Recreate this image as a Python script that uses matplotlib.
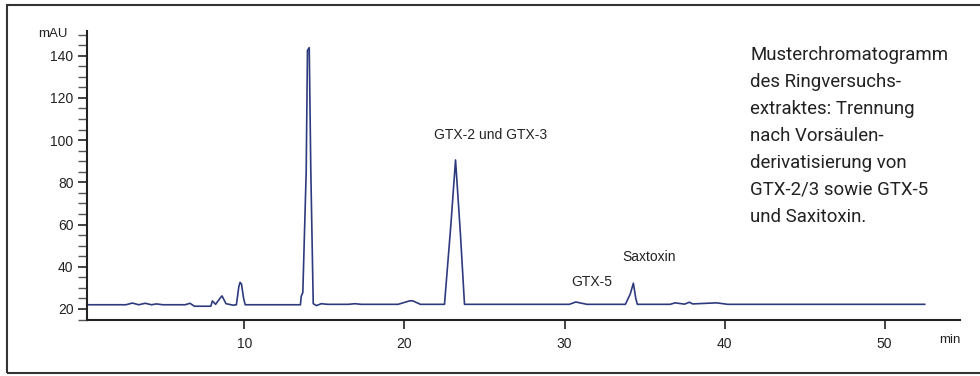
import matplotlib
matplotlib.use("Agg")
import matplotlib.pyplot as plt
from matplotlib.patches import Rectangle
from matplotlib.ticker import MultipleLocator

# chromatogram trace (min, mAU)
t_min = [0.15, 2.6, 3.0, 3.4, 3.8, 4.2, 4.5, 4.9, 6.3, 6.6, 6.88, 7.9, 8.0, 8.2,
         8.45, 8.6, 8.75, 8.85, 9.3, 9.5, 9.65, 9.73, 9.82, 9.95, 10.05,
         13.5, 13.55, 13.65, 13.86, 13.94, 14.05, 14.15, 14.3, 14.5, 14.8, 15.2,
         16.5, 16.9, 17.3, 19.6, 20.3, 20.5, 21.0, 22.5, 22.9, 23.19, 23.5, 23.75,
         30.3, 30.7, 31.4, 33.8, 34.1, 34.3, 34.45, 34.55,
         36.6, 36.9, 37.5, 37.8, 38.0, 39.5, 40.2, 52.5]
mau = [22.0, 22.0, 22.8, 22.0, 22.7, 22.0, 22.4, 22.0, 22.0, 22.7, 21.3, 21.3, 23.8, 22.2,
       24.8, 26.2, 24.0, 22.5, 21.8, 22.0, 30.5, 32.6, 31.8, 25.0, 22.0,
       22.0, 26.0, 27.8, 85.0, 142.5, 143.8, 85.0, 22.5, 21.6, 22.5, 22.2,
       22.2, 22.5, 22.2, 22.2, 23.8, 23.9, 22.2, 22.2, 60.0, 90.6, 55.0, 22.2,
       22.2, 23.3, 22.2, 22.2, 27.0, 32.2, 25.0, 22.2,
       22.2, 22.9, 22.3, 23.2, 22.4, 22.9, 22.2, 22.2]

x_ticks = [10, 20, 30, 40, 50]
y_ticks = [20, 40, 60, 80, 100, 120, 140]

peak_labels = ["GTX-2 und GTX-3", "GTX-5", "Saxtoxin"]
label_x = [25.4, 31.7, 35.25]
label_y = [102.5, 32.9, 44.5]

caption = ("Musterchromatogramm\ndes Ringversuchs-\nextraktes: Trennung\n"
           "nach Vorsäulen-\nderivatisierung von\nGTX-2/3 sowie GTX-5\nund Saxitoxin.")

line_col = "#2e3a7e"
txt_col = "#222222"

plt.rcParams['font.family'] = ['Liberation Sans', 'DejaVu Sans']

fig = plt.figure(figsize=(9.8, 3.76), dpi=100)
# outer frame, right edge runs off the picture
fig.patches.append(Rectangle((7/980, 3/376), 980/980, 368/376, transform=fig.transFigure,
                             fill=False, edgecolor="#333333", linewidth=1.5))

ax = fig.add_axes([0.0885, 0.149, 0.8915, 0.7686])
ax.plot(t_min, mau, color=line_col, linewidth=1.2)

ax.set_xlim(0.15, 54.73)
ax.set_ylim(14.79, 151.7)
ax.set_xticks(x_ticks)
ax.set_yticks(y_ticks)
ax.yaxis.set_minor_locator(MultipleLocator(5))
for s in ["top", "right"]:
    ax.spines[s].set_visible(False)
for s in ["left", "bottom"]:
    ax.spines[s].set_linewidth(1.5)
    ax.spines[s].set_color("#222222")
ax.tick_params(axis="both", which="major", direction="out", length=6.5, width=1.2,
               labelsize=10, colors="#222222", labelcolor=txt_col, pad=3)
ax.tick_params(axis="x", which="major", pad=6)
ax.tick_params(axis="y", which="minor", direction="out", length=6.5, width=1.0, colors="#555555")

ax.text(-0.0557, 0.99, "mAU", transform=ax.transAxes, fontsize=9.5, color=txt_col,
        ha="left", va="center")
ax.text(1.0, -0.069, "min", transform=ax.transAxes, fontsize=9.5, color=txt_col,
        ha="right", va="center")

for lab, lx, ly in zip(peak_labels, label_x, label_y):
    ax.text(lx, ly, lab, fontsize=10, color=txt_col, ha="center", va="center")

fig.text(750/980, 1 - 46/376, caption, fontsize=13.4, color=txt_col, ha="left", va="top",
         linespacing=1.64, family=['Roboto', 'DejaVu Sans'])

fig.savefig("out.png", dpi=100)
